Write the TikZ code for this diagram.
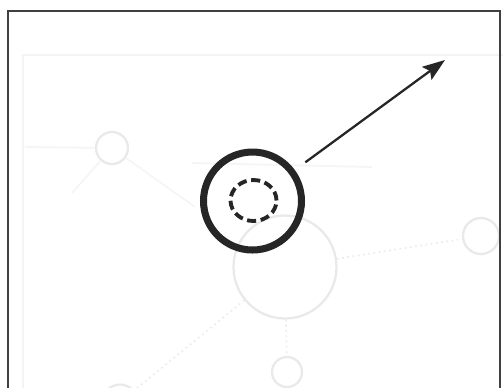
\documentclass[tikz,border=0pt]{standalone}
\usetikzlibrary{arrows.meta,shapes.geometric}
\begin{document}
\begin{tikzpicture}[x=0.02cm,y=-0.02cm,
  ghost/.style={circle, draw=gray!17, line width=1.3pt, inner sep=0pt},
  ghostline/.style={draw=gray!15, line width=1pt},
  cell/.style={circle, draw=black!85, line width=4pt, minimum size=1.96cm, inner sep=0pt},
  core/.style={ellipse, draw=black!85, line width=2.2pt, minimum width=0.92cm,
    minimum height=0.82cm, inner sep=0pt, dash pattern=on 5.2pt off 2.6pt}]
\useasboundingbox (0,0) rectangle (503,387);
\clip (0,0) rectangle (503,387);

% faint show-through of the facing page
\draw[draw=gray!9, line width=0.8pt] (23,400) -- (23,55) -- (503,55);
\node[ghost, minimum size=0.64cm] (g1) at (112,148) {};
\node[ghost, minimum size=2.06cm] (g2) at (285,267) {};
\node[ghost, minimum size=0.72cm] (g3) at (481,236) {};
\node[ghost, minimum size=0.6cm]  (g4) at (287,372) {};
\node[ghost, minimum size=0.7cm]  (g5) at (120,402) {};
\coordinate (l1) at (25,147);
\coordinate (l2) at (72,193);
\draw[ghostline, dotted] (g2) -- (g3);
\draw[ghostline, dotted] (g2) -- (g4);
\draw[ghostline, dotted] (g2) -- (g5);
\draw[ghostline, draw=gray!8] (g1) -- (l1);
\draw[ghostline, draw=gray!8] (g1) -- (l2);
\draw[ghostline, draw=gray!8] (g1) -- (195,207);
\draw[ghostline, draw=gray!8] (192,163) -- (372,167);

% frame
\draw[draw=black!75, line width=1.4pt] (8,400) -- (8,11) -- (500,11) -- (500,400);

% the cell and its core
\node[cell] (cell) at (252.5,201) {};
\node[core] (core) at (253.5,200.5) {};
\coordinate (tip) at (445,60);
\draw[-{Stealth[length=4.5mm,width=3.2mm,inset=0.8mm]}, line width=1.3pt,
  draw=black!85, shorten <=0.26cm] (cell) -- (tip);
\end{tikzpicture}
\end{document}
